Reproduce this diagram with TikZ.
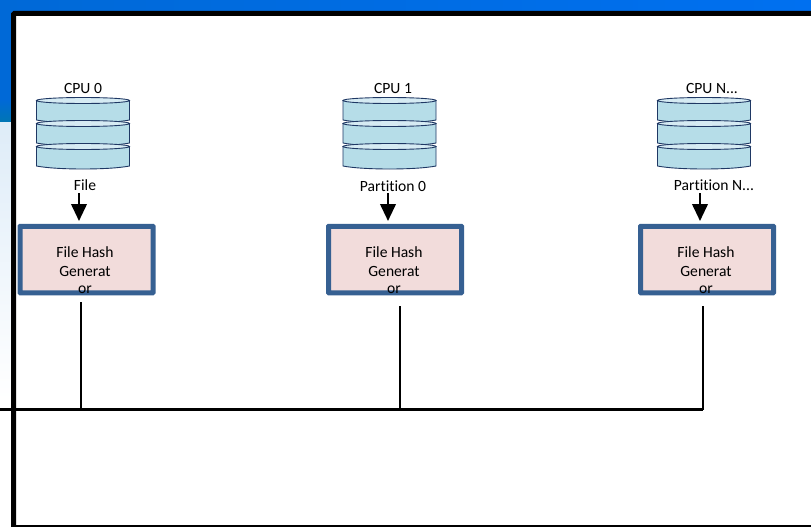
\documentclass[tikz,border=0pt]{standalone}
\usepackage{fontspec}
\setmainfont[Ligatures=NoCommon]{Carlito}
\usetikzlibrary{arrows.meta}
\definecolor{topblueA}{RGB}{0,105,215}
\definecolor{topblueB}{RGB}{0,112,240}
\definecolor{tealband}{RGB}{0,118,180}
\definecolor{paleL}{RGB}{222,236,248}
\definecolor{diskfill}{RGB}{182,221,232}
\definecolor{disktop}{RGB}{214,235,243}
\definecolor{diskline}{RGB}{31,56,100}
\definecolor{boxfill}{RGB}{242,220,219}
\definecolor{boxline}{RGB}{54,96,146}
\tikzset{
  x=1pt,y=-1pt,
  lab/.style={inner sep=0pt,font=\fontsize{15.6}{15.6}\selectfont,text=black,anchor=center},
  hashbox/.style={draw=boxline,line width=5pt,fill=boxfill,rounded corners=0.5pt,minimum width=133pt,minimum height=66.5pt,inner sep=0pt},
  bus/.style={draw=black,line width=2.6pt},
  drop/.style={draw=black,line width=2.2pt},
  feed/.style={draw=black,line width=2.4pt,-{Triangle[length=17pt,width=15.5pt]},shorten >=0pt},
  disk/.style={draw=diskline,line width=0.9pt,fill=diskfill},
  disktopst/.style={draw=diskline,line width=0.9pt,fill=disktop}
}
\newcommand{\onedisk}[3]{% left x, top y, bottom y
  \path[disk] (#1,#2+3.5) -- (#1,#3-3) .. controls (#1+20,#3+1) and (#1+73,#3+1) .. (#1+93,#3-3) -- (#1+93,#2+3.5) -- cycle;
  \path[disktopst] (#1+46.5,#2+3.5) ellipse [x radius=46.5pt,y radius=3pt];
}
\newcommand{\stack}[1]{%
  \onedisk{#1}{97}{123}
  \onedisk{#1}{120}{146}
  \onedisk{#1}{143}{169}
}
\begin{document}
\begin{tikzpicture}
\useasboundingbox (0,0) rectangle (811,527);
\begin{scope}
\clip (0,0) rectangle (811,527);
\fill[white] (0,0) rectangle (811,527);
% slide background
\fill[left color=topblueA,right color=topblueB] (0,0) rectangle (811,13);
\fill[topblueA] (0,0) rectangle (13,100);
\fill[top color=topblueA,bottom color=tealband] (0,100) rectangle (13,122);
\fill[top color=paleL,bottom color=white] (0,122) rectangle (13,400);
% frame
\draw[black,line width=5pt,fill=white,rounded corners=1pt] (13.5,13.5) rectangle (830,527.5);
\end{scope}
% cylinders
\stack{36.5}
\stack{343}
\stack{657.5}
% labels
\node[lab] (cpu0) at (83,88) {CPU 0};
\node[lab] (cpu1) at (393,88) {CPU 1};
\node[lab] (cpuN) at (712,88) {CPU N...};
\node[lab] (file) at (85,185) {File};
\node[lab] (part0) at (393,186) {Partition 0};
\node[lab] (partN) at (714,185) {Partition N...};
% boxes
\node[hashbox] (h0) at (86.5,259.5) {};
\node[hashbox] (h1) at (395,259.5) {};
\node[hashbox] (h2) at (707,259.5) {};
\foreach \n/\c in {a/85,b/394,c/706}{
  \node[lab] (ht\n) at (\c,252) {File Hash};
  \node[lab] (hg\n) at (\c,271) {Generat};
  \node[lab] (ho\n) at (\c,290) {or};
}
% arrows
\coordinate (a0) at (79,193);
\coordinate (a1) at (388,193);
\coordinate (a2) at (700,193);
\coordinate (t0) at (79,221);
\coordinate (t1) at (388,221);
\coordinate (t2) at (700,221);
\draw[feed] (a0) -- (t0);
\draw[feed] (a1) -- (t1);
\draw[feed] (a2) -- (t2);
% bus
\coordinate (bL) at (0,409.5);
\coordinate (j0) at (81,409.5);
\coordinate (j1) at (400,409.5);
\coordinate (j2) at (703,409.5);
\coordinate (s0) at (81,302);
\coordinate (s1) at (400,306);
\coordinate (s2) at (703,306);
\draw[bus] (bL) -- (j2);
\draw[drop] (s0) -- (j0);
\draw[drop] (s1) -- (j1);
\draw[drop] (s2) -- (j2);
\end{tikzpicture}
\end{document}
